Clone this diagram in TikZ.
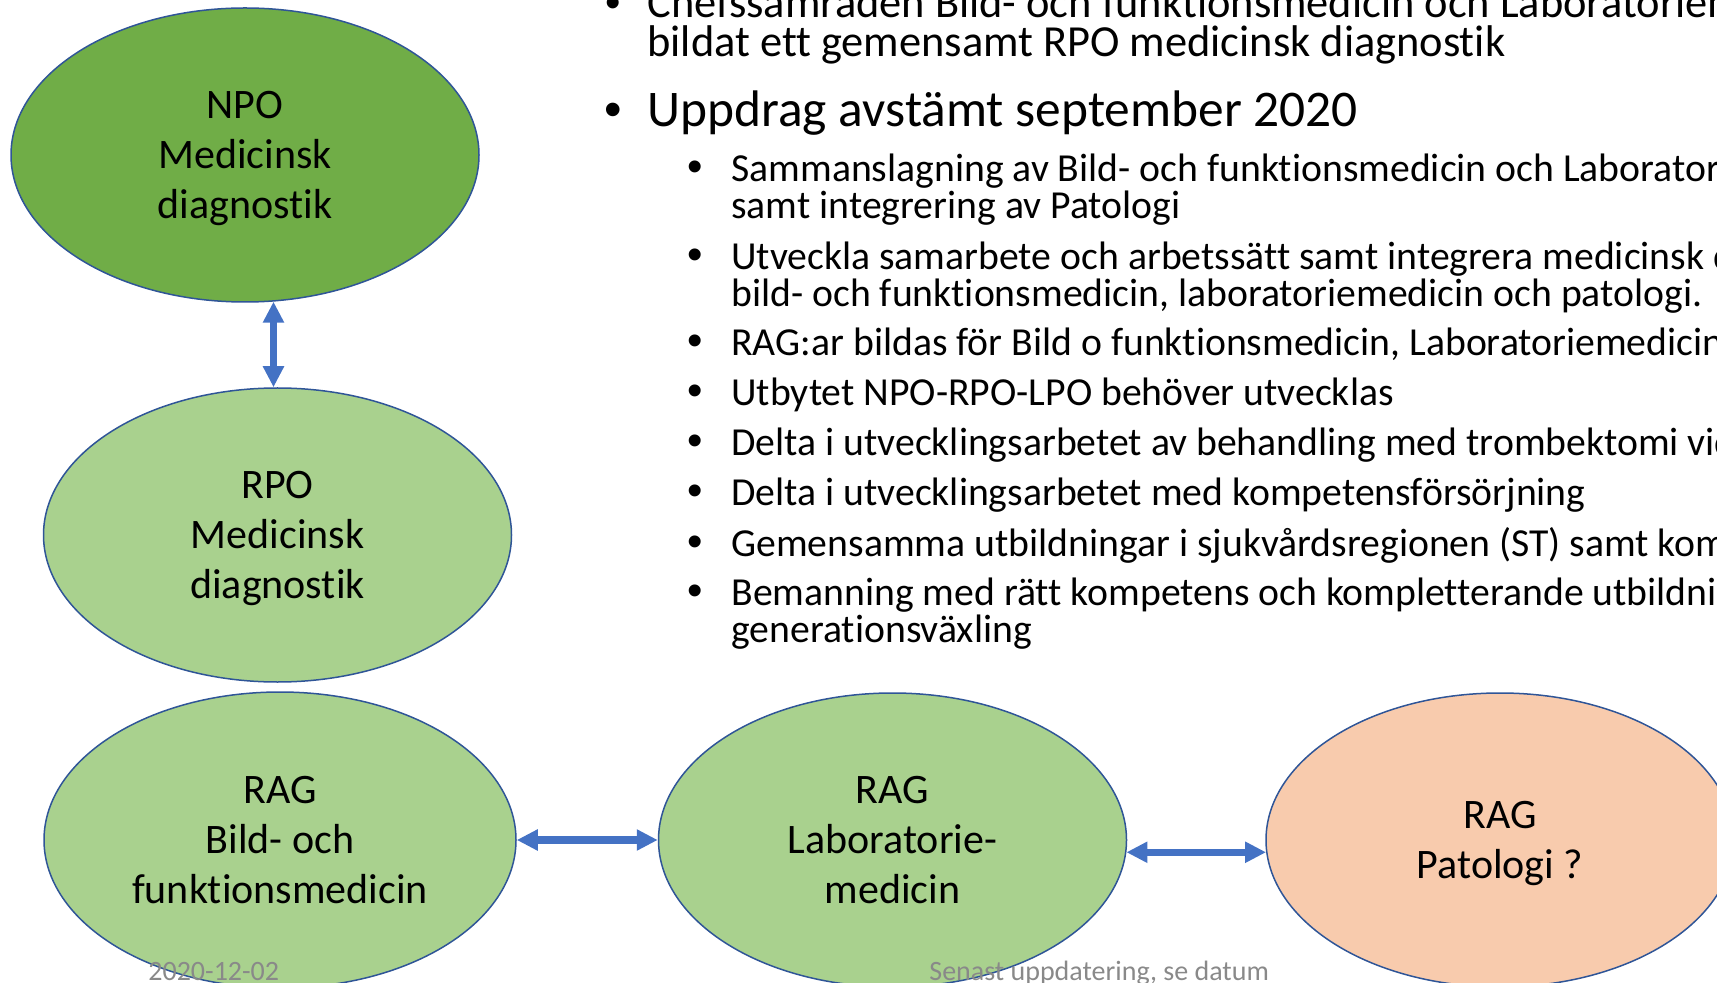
\documentclass[tikz,border=0pt]{standalone}
\usepackage{fontspec}
\setmainfont{Carlito}[Ligatures=NoCommon]
\newfontfamily\punktfont{Liberation Sans}
\usetikzlibrary{shapes.geometric,arrows.meta}

\definecolor{npogreen}{HTML}{70AD47}
\definecolor{raggreen}{HTML}{A9D18E}
\definecolor{ragpeach}{HTML}{F8CBAD}
\definecolor{rimblue}{HTML}{2F5597}
\definecolor{pilblue}{HTML}{4472C4}
\definecolor{footgray}{HTML}{898989}

\tikzset{
  grupp/.style={ellipse, draw=rimblue, line width=0.75pt, inner sep=0pt,
    minimum width=234pt, minimum height=147pt, align=center, text depth=0pt,
    font=\fontsize{21}{25}\selectfont},
  dubbelpil/.style={draw=pilblue, line width=3.75pt,
    {Triangle[width=10pt,length=10.5pt]}-{Triangle[width=10pt,length=10.5pt]}},
  huvud/.style={anchor=base west, align=left, font=\fontsize{22.2}{19.5}\selectfont, inner sep=0pt},
  stor/.style={anchor=base west, font=\fontsize{25.7}{30}\selectfont, inner sep=0pt},
  under/.style={anchor=base west, align=left, font=\fontsize{19.85}{18.5}\selectfont, inner sep=0pt},
  prick/.style={anchor=base, inner sep=0pt, font=\punktfont\fontsize{25}{25}\selectfont},
  smaprick/.style={anchor=base, inner sep=0pt, font=\punktfont\fontsize{22}{22}\selectfont},
  fot/.style={anchor=base west, inner sep=0pt, text=footgray, font=\fontsize{14}{16}\selectfont}
}

\begin{document}
\begin{tikzpicture}[x=0.5pt, y=-0.5pt]
        \useasboundingbox (0,0) rectangle (1717,983);
        \clip (0,0) rectangle (1717,983);

        % organisation
        \node[grupp, fill=npogreen] (npo) at (245,155) {NPO\\Medicinsk\\diagnostik};
        \node[grupp, fill=raggreen] (rpo) at (277.5,535) {RPO\\Medicinsk\\diagnostik};
        \node[grupp, fill=raggreen, minimum width=236pt, minimum height=148pt] (bild) at (280,840) {RAG\\Bild- och\\funktionsmedicin};
        \node[grupp, fill=raggreen] (lab) at (892.5,840) {RAG\\Laboratorie-\\medicin};
        \node[grupp, fill=ragpeach] (pat) at (1500,840) {RAG\\Patologi ?};

        \draw[dubbelpil] (npo.-79) -- (npo.-79 |- rpo.north);
        \draw[dubbelpil] (bild.east) -- (lab.west);
        \draw[dubbelpil] (lab.-3) -- (pat.183);

        % text till hoger
        \node[smaprick] (p0) at (613,18) {•};
        \node[huvud] (t0) at (647,57) {Chefssamråden Bild- och funktionsmedicin och Laboratoriemedicin har\\bildat ett gemensamt RPO medicinsk diagnostik};
        \node[prick] (p1) at (613,127) {•};
        \node[stor] (t1) at (647,127) {Uppdrag avstämt september 2020};

        \node[smaprick] (s1) at (695,182) {•};
        \node[under] (u1) at (731,219) {Sammanslagning av Bild- och funktionsmedicin och Laboratoriemedicin\\samt integrering av Patologi};
        \node[smaprick] (s2) at (695,270) {•};
        \node[under] (u2) at (731,307) {Utveckla samarbete och arbetssätt samt integrera medicinsk diagnostik\\bild- och funktionsmedicin, laboratoriemedicin och patologi.};
        \node[smaprick] (s3) at (695,356) {•};
        \node[under] (u3) at (731,356) {RAG:ar bildas för Bild o funktionsmedicin, Laboratoriemedicin och};
        \node[smaprick] (s4) at (695,406) {•};
        \node[under] (u4) at (731,406) {Utbytet NPO-RPO-LPO behöver utvecklas};
        \node[smaprick] (s5) at (695,456) {•};
        \node[under] (u5) at (731,456) {Delta i utvecklingsarbetet av behandling med trombektomi vid};
        \node[smaprick] (s6) at (695,506) {•};
        \node[under] (u6) at (731,506) {Delta i utvecklingsarbetet med kompetensförsörjning};
        \node[smaprick] (s7) at (695,556) {•};
        \node[under] (u7) at (731,556) {Gemensamma utbildningar i sjukvårdsregionen (ST) samt kompetens};
        \node[smaprick] (s8) at (695,605) {•};
        \node[under] (u8) at (731,642) {Bemanning med rätt kompetens och kompletterande utbildning\\generationsväxling};

        % sidfot
        \node[fot] (datum) at (148,980) {2020-12-02};
        \node[fot] (uppd) at (929,980) {Senast uppdatering, se datum};
\end{tikzpicture}
\end{document}
